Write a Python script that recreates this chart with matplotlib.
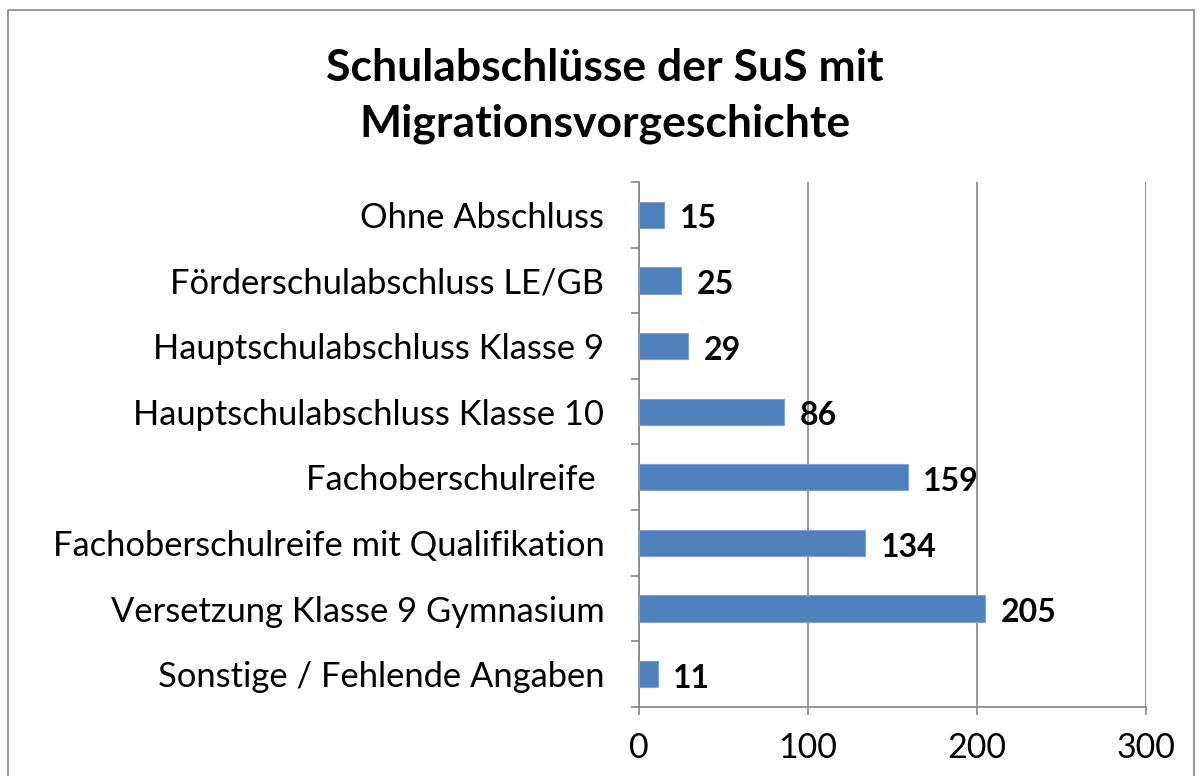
import matplotlib.pyplot as plt
from matplotlib.patches import Rectangle
from matplotlib.ticker import FixedLocator

# Daten
kategorien = ['Ohne Abschluss',
              'Förderschulabschluss LE/GB',
              'Hauptschulabschluss Klasse 9',
              'Hauptschulabschluss Klasse 10',
              'Fachoberschulreife ',
              'Fachoberschulreife mit Qualifikation',
              'Versetzung Klasse 9 Gymnasium',
              'Sonstige / Fehlende Angaben']
werte = [15, 25, 29, 86, 159, 134, 205, 11]
x_ticks = [0, 100, 200, 300]

plt.rcParams['font.family'] = ['Lato', 'DejaVu Sans']

fig = plt.figure(figsize=(12.02, 7.76), dpi=100)
ax = fig.add_axes([0.5316, 0.0889, 0.4218, 0.6766])

pos = list(range(len(kategorien)))
ax.barh(pos, werte, height=0.4, color='#4F81BD', edgecolor='#7FA3D0', linewidth=0.8, zorder=3)

for p, w in zip(pos, werte):
    ax.annotate(str(w), (w, p), xytext=(11, -3), textcoords='offset points',
                ha='left', va='center', fontsize=23, fontweight='bold', color='black')

ax.set_ylim(len(kategorien) - 0.5, -0.5)
ax.set_xlim(0, 300)
ax.set_yticks(pos)
ax.set_yticklabels(kategorien, fontsize=24.8)
ax.yaxis.set_minor_locator(FixedLocator([i - 0.5 for i in range(len(kategorien) + 1)]))
ax.tick_params(axis='y', which='major', length=0, pad=25)
ax.tick_params(axis='y', which='minor', length=6, width=1.2, color='#868686')
ax.set_xticks(x_ticks)
ax.tick_params(axis='x', labelsize=24.5, length=6, width=1.2, color='#868686', pad=12)

ax.grid(axis='x', color='#868686', linewidth=1.2, zorder=0)
for s in ['top', 'right']:
    ax.spines[s].set_visible(False)
for s in ['left', 'bottom']:
    ax.spines[s].set_color('#868686')
    ax.spines[s].set_linewidth(1.2)

fig.text(0.503, 0.938, 'Schulabschlüsse der SuS mit\nMigrationsvorgeschichte',
         ha='center', va='top', fontsize=32, fontweight='bold', linespacing=1.48)

fig.patches.append(Rectangle((0.0067, -0.1), 0.987, 1.087, transform=fig.transFigure,
                             fill=False, edgecolor='#868686', linewidth=1.2))

fig.savefig('out.png', dpi=100)
